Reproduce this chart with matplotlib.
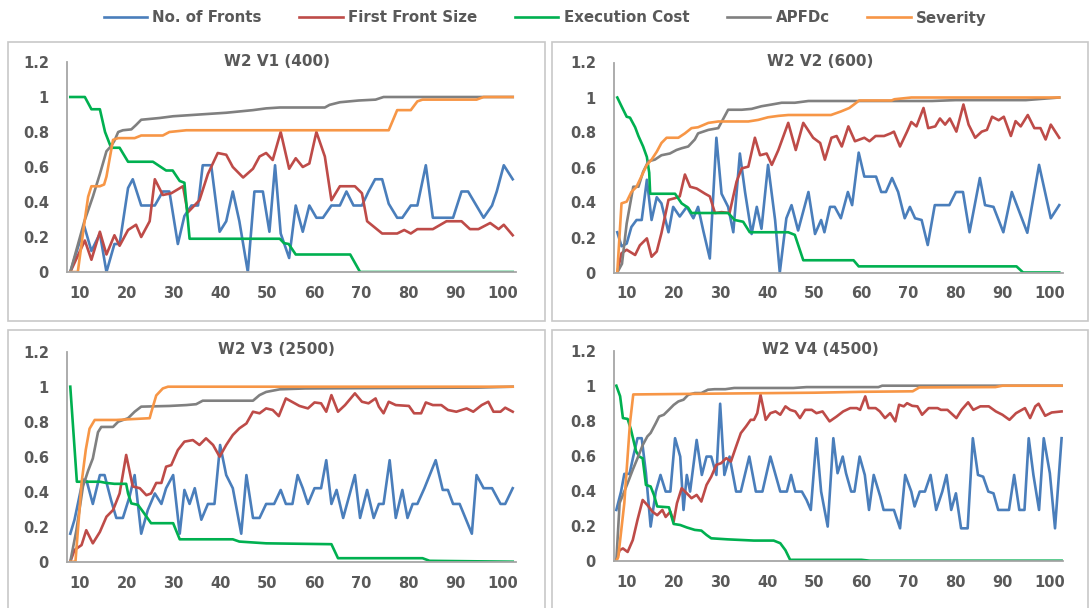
import matplotlib.pyplot as plt
from matplotlib.patches import Rectangle

plt.rcParams['font.family'] = ['DejaVu Sans']

series_names = ['No. of Fronts', 'First Front Size', 'Execution Cost', 'APFDc', 'Severity']
series_colors = ['#4a7ebb', '#be4b48', '#00b050', '#808080', '#f79646']
panel_titles = ['W2 V1 (400)', 'W2 V2 (600)', 'W2 V3 (2500)', 'W2 V4 (4500)']
x_ticks = [10, 20, 30, 40, 50, 60, 70, 80, 90, 100]
y_ticks = [0, 0.2, 0.4, 0.6, 0.8, 1.0, 1.2]
y_tick_labels = ['0', '0.2', '0.4', '0.6', '0.8', '1', '1.2']

# line vertices (x, y)

# ---- W2 V1 (400)
v1_fronts = [(8, 0.0), (11, 0.26), (12.5, 0.12), (14.3, 0.22), (15.7, 0.0), (17.4, 0.16), (18.5, 0.16),
             (20.3, 0.48), (21.3, 0.53), (23.1, 0.38), (26, 0.38), (27.7, 0.46), (29.1, 0.46), (30.9, 0.16),
             (32.3, 0.32), (33.8, 0.38), (35.2, 0.38), (36.2, 0.61), (38, 0.61), (39.8, 0.23), (41.2, 0.29),
             (42.6, 0.46), (44, 0.29), (45.8, 0.0), (47.2, 0.46), (49, 0.46), (50.4, 0.23), (51.6, 0.61),
             (52.8, 0.22), (54.6, 0.08), (56, 0.38), (57.5, 0.23), (58.9, 0.38), (60.4, 0.31), (61.8, 0.31),
             (63.6, 0.38), (65.4, 0.38), (66.8, 0.46), (68.3, 0.38), (70.1, 0.38), (71.5, 0.46), (72.9, 0.53),
             (74.4, 0.53), (75.8, 0.39), (77.6, 0.31), (78.7, 0.31), (80.5, 0.38), (81.9, 0.38), (83.7, 0.61),
             (85.2, 0.31), (89.5, 0.31), (91.3, 0.46), (92.7, 0.46), (96, 0.31), (97.8, 0.38), (98.8, 0.46),
             (100.3, 0.61), (102.2, 0.53)]
v1_front_size = [(8, 0.0), (11.1, 0.18), (12.5, 0.07), (14.3, 0.23), (15.7, 0.1), (17.4, 0.21), (18.5, 0.15),
                 (20.3, 0.24), (22, 0.27), (23.1, 0.2), (24.9, 0.29), (26, 0.53), (27.7, 0.44), (29.5, 0.45),
                 (32, 0.49), (33, 0.34), (35.5, 0.41), (37.3, 0.56), (39.4, 0.68), (41.2, 0.67), (42.6, 0.6),
                 (44.8, 0.54), (46.9, 0.59), (48.3, 0.66), (49.7, 0.68), (51.1, 0.64), (52.8, 0.8), (54.6, 0.59),
                 (56, 0.65), (57.5, 0.6), (58.9, 0.62), (60.4, 0.8), (62.2, 0.66), (63.6, 0.41), (65.4, 0.49),
                 (68.6, 0.49), (70.1, 0.45), (71.2, 0.29), (74.4, 0.22), (77.6, 0.22), (79.1, 0.24), (80.5, 0.22),
                 (81.9, 0.245), (85.2, 0.245), (88.1, 0.29), (91.3, 0.29), (93.1, 0.245), (94.9, 0.245),
                 (97.4, 0.28), (99.2, 0.245), (100.3, 0.27), (102.2, 0.21)]
v1_cost = [(8, 1.0), (11.1, 1.0), (12.5, 0.93), (14.3, 0.93), (15.4, 0.8), (16.7, 0.71), (18.5, 0.71),
           (20.3, 0.63), (25.6, 0.63), (28.4, 0.58), (29.8, 0.58), (31.3, 0.52), (32.3, 0.51), (33.4, 0.19),
           (52.6, 0.19), (53.5, 0.165), (54.5, 0.16), (56, 0.1), (67.6, 0.1), (69.7, 0.0), (102.2, 0.0)]
v1_apfdc = [(8, 0.0), (11, 0.29), (12.8, 0.43), (14.3, 0.56), (15.7, 0.69), (16.7, 0.72), (17.4, 0.75),
            (18.2, 0.8), (19.2, 0.81), (21, 0.815), (22, 0.84), (23.1, 0.87), (27, 0.88), (29.9, 0.89),
            (35.5, 0.9), (41.2, 0.91), (46.9, 0.925), (49.7, 0.935), (52.6, 0.94), (62.2, 0.94),
            (63.2, 0.955), (65.4, 0.97), (69.4, 0.98), (73, 0.985), (74.7, 1.0), (102.2, 1.0)]
v1_severity = [(8, 0.0), (9.6, 0.0), (11.1, 0.3), (11.8, 0.43), (12.5, 0.49), (14.3, 0.49), (15.2, 0.5),
               (15.7, 0.545), (17.1, 0.755), (18.2, 0.765), (21.7, 0.765), (23.1, 0.78), (27.7, 0.78),
               (29.1, 0.8), (32.7, 0.81), (75.8, 0.81), (77.6, 0.925), (80.5, 0.925), (81.9, 0.975),
               (83, 0.985), (94.5, 0.985), (96, 1.0), (102.2, 1.0)]

# ---- W2 V2 (600)
v2_fronts = [(8, 0.23), (8.9, 0.15), (10, 0.165), (11, 0.26), (12.1, 0.3), (13.2, 0.3), (14.3, 0.53),
             (15.3, 0.3), (16.4, 0.43), (17.4, 0.395), (18.9, 0.23), (19.9, 0.375), (21.3, 0.32), (22.8, 0.375),
             (24.2, 0.31), (25.2, 0.375), (26.3, 0.24), (27.7, 0.08), (29.1, 0.77), (30.2, 0.45), (31.6, 0.375),
             (32.7, 0.23), (34.1, 0.68), (35.2, 0.46), (36.6, 0.22), (37.7, 0.375), (38.7, 0.25), (40.1, 0.615),
             (41.6, 0.3), (42.6, 0.0), (44, 0.31), (45.1, 0.385), (46.5, 0.24), (48.7, 0.46), (50.1, 0.22),
             (51.4, 0.3), (52.1, 0.23), (53.3, 0.375), (54.3, 0.375), (55.6, 0.31), (57.1, 0.46), (58, 0.385),
             (59.4, 0.685), (60.6, 0.548), (63.1, 0.548), (64.2, 0.46), (65.2, 0.46), (66.5, 0.54),
             (67.8, 0.46), (69.2, 0.31), (70.3, 0.375), (71.4, 0.31), (72.8, 0.3), (74.1, 0.157),
             (75.6, 0.385), (78.7, 0.385), (80.1, 0.46), (81.6, 0.46), (83, 0.23), (85.2, 0.54),
             (86.3, 0.385), (88.1, 0.375), (90.2, 0.23), (92, 0.46), (95.3, 0.227), (97.8, 0.615),
             (100.3, 0.31), (102.1, 0.385)]
v2_front_size = [(8, 0.0), (8.9, 0.11), (10, 0.13), (11.8, 0.1), (12.8, 0.155), (14.3, 0.195), (15.3, 0.09),
                 (16.4, 0.12), (17.4, 0.225), (18.9, 0.415), (20.3, 0.425), (21.3, 0.435), (22.4, 0.56),
                 (23.5, 0.49), (24.9, 0.48), (26.7, 0.45), (27.7, 0.435), (28.8, 0.34), (30.2, 0.345),
                 (31.9, 0.34), (33.4, 0.52), (34.5, 0.595), (35.9, 0.605), (37.3, 0.77), (38.4, 0.67),
                 (39.8, 0.68), (40.9, 0.615), (42.3, 0.7), (44.4, 0.855), (46, 0.7), (47.6, 0.855),
                 (49.7, 0.77), (51.2, 0.74), (52.2, 0.645), (53.6, 0.77), (54.7, 0.78), (55.8, 0.72),
                 (57.2, 0.835), (58.6, 0.75), (60.6, 0.77), (61.7, 0.75), (63, 0.78), (64.8, 0.78),
                 (66.2, 0.795), (66.9, 0.805), (68.2, 0.72), (69.7, 0.805), (70.6, 0.86), (71.7, 0.835),
                 (73.2, 0.94), (74.2, 0.825), (75.7, 0.835), (76.7, 0.88), (77.8, 0.845), (78.8, 0.88),
                 (80.2, 0.805), (81.7, 0.96), (82.8, 0.845), (84.2, 0.77), (85.6, 0.805), (86.7, 0.815),
                 (87.8, 0.89), (89.2, 0.87), (90.3, 0.89), (91.8, 0.78), (92.8, 0.865), (93.9, 0.835),
                 (95.4, 0.9), (96.8, 0.825), (98.1, 0.825), (99.2, 0.76), (100.3, 0.845), (102.1, 0.77)]
v2_cost = [(8, 1.0), (8.9, 0.95), (10, 0.89), (10.7, 0.885), (11.8, 0.83), (12.5, 0.78), (13.5, 0.72),
           (14.3, 0.66), (14.8, 0.57), (15, 0.45), (20.3, 0.45), (21.7, 0.395), (23.1, 0.37), (23.8, 0.34),
           (31.6, 0.34), (33, 0.3), (34.8, 0.29), (36.2, 0.23), (44.4, 0.23), (45.8, 0.215), (47.6, 0.07),
           (58.3, 0.07), (59.4, 0.035), (93, 0.035), (94.4, 0.0), (102.1, 0.0)]
v2_apfdc = [(8, 0.0), (9, 0.05), (10, 0.28), (11.4, 0.49), (12.5, 0.49), (13.5, 0.575), (14.6, 0.635),
            (16, 0.645), (17.4, 0.67), (19.2, 0.68), (20.6, 0.7), (21.7, 0.71), (23.1, 0.72), (24.5, 0.76),
            (25.2, 0.795), (27.4, 0.815), (29.5, 0.825), (31.6, 0.93), (34.5, 0.93), (36.6, 0.935),
            (38.7, 0.95), (40.9, 0.96), (43, 0.97), (45.8, 0.97), (48.7, 0.98), (75, 0.98), (80, 0.985),
            (95, 0.985), (102.1, 1.0)]
v2_severity = [(8, 0.0), (8.9, 0.395), (10, 0.405), (11, 0.46), (12.1, 0.49), (14.3, 0.615), (15.3, 0.645),
               (16.4, 0.69), (17.4, 0.74), (18.5, 0.77), (21, 0.77), (22.4, 0.795), (23.8, 0.825),
               (25.2, 0.83), (27.4, 0.855), (29.5, 0.863), (35.9, 0.863), (38, 0.872), (40.1, 0.887),
               (42.3, 0.895), (44.4, 0.9), (53.5, 0.9), (55.6, 0.92), (57.4, 0.94), (58.4, 0.96),
               (59.5, 0.983), (66.4, 0.983), (67, 0.99), (70.6, 1.0), (102.1, 1.0)]

# ---- W2 V3 (2500)
v3_fronts = [(8, 0.16), (8.9, 0.24), (10.7, 0.47), (11.5, 0.46), (12.8, 0.33), (14.3, 0.495), (15.3, 0.495),
             (16.7, 0.35), (17.8, 0.25), (19.2, 0.25), (20.6, 0.37), (21.7, 0.495), (23.1, 0.16), (24.5, 0.295),
             (26, 0.39), (27.4, 0.33), (28.4, 0.42), (29.9, 0.495), (31.3, 0.16), (32.3, 0.41), (33.4, 0.33),
             (34.5, 0.42), (35.9, 0.24), (37.3, 0.33), (38.7, 0.33), (39.9, 0.667), (41.2, 0.495),
             (42.6, 0.42), (44.4, 0.16), (45.5, 0.495), (46.9, 0.25), (48.3, 0.25), (49.7, 0.33), (51.4, 0.33),
             (52.8, 0.41), (53.9, 0.33), (55.3, 0.33), (56.4, 0.495), (57.5, 0.42), (58.6, 0.33), (60, 0.42),
             (61.4, 0.42), (62.5, 0.58), (63.6, 0.33), (64.7, 0.41), (66.1, 0.25), (68.6, 0.495), (69.7, 0.25),
             (71.2, 0.41), (72.6, 0.25), (73.7, 0.33), (74.7, 0.33), (76, 0.58), (77.3, 0.25), (78.7, 0.41),
             (79.8, 0.25), (80.9, 0.33), (81.9, 0.33), (83.4, 0.42), (85.8, 0.58), (87.3, 0.41), (88.4, 0.41),
             (89.5, 0.33), (90.9, 0.33), (93.5, 0.16), (94.5, 0.495), (96, 0.42), (97.8, 0.42), (99.6, 0.33),
             (100.6, 0.33), (102.2, 0.42)]
v3_front_size = [(8, 0.0), (8.9, 0.067), (10.4, 0.095), (11.4, 0.18), (12.8, 0.105), (14.3, 0.17),
                 (15.7, 0.257), (17.1, 0.295), (18.5, 0.39), (19.9, 0.61), (21.3, 0.43), (22.8, 0.42),
                 (24.2, 0.38), (25.2, 0.39), (26.3, 0.45), (27.4, 0.45), (28.4, 0.543), (29.5, 0.552),
                 (30.9, 0.638), (32.3, 0.686), (34.1, 0.695), (35.5, 0.667), (36.9, 0.705), (38.4, 0.667),
                 (39.8, 0.6), (41.2, 0.667), (42.6, 0.724), (44, 0.762), (45.5, 0.79), (46.9, 0.857),
                 (48.3, 0.848), (49.7, 0.876), (51.1, 0.867), (52.4, 0.832), (53.9, 0.933), (56.8, 0.89),
                 (58.6, 0.876), (60, 0.91), (61.4, 0.905), (62.5, 0.857), (63.6, 0.952), (65, 0.857),
                 (66.5, 0.895), (68.6, 0.962), (70.1, 0.914), (71.5, 0.905), (73, 0.933), (73.7, 0.886),
                 (74.7, 0.848), (75.8, 0.914), (77.3, 0.895), (80.1, 0.89), (81.2, 0.848), (82.7, 0.848),
                 (83.7, 0.91), (85.2, 0.895), (87, 0.895), (88.4, 0.867), (90.2, 0.857), (92.4, 0.876),
                 (93.8, 0.857), (95.6, 0.895), (97, 0.914), (98.1, 0.857), (99.6, 0.857), (100.6, 0.88),
                 (102.2, 0.857)]
v3_cost = [(8, 1.0), (9.4, 0.457), (14.3, 0.457), (15.7, 0.45), (17.4, 0.445), (19.9, 0.445), (20.3, 0.39),
           (21, 0.333), (22.4, 0.325), (23.5, 0.285), (25.2, 0.22), (29.9, 0.22), (31.3, 0.128),
           (42.6, 0.128), (44, 0.115), (49.7, 0.105), (63.6, 0.1), (65, 0.02), (83, 0.02), (84.5, 0.005),
           (102.2, 0.0)]
v3_apfdc = [(8, 0.0), (9.3, 0.18), (10.7, 0.43), (11.8, 0.52), (12.8, 0.59), (13.9, 0.74), (14.6, 0.77),
            (17.1, 0.77), (18.2, 0.8), (20.3, 0.82), (21.7, 0.857), (23.1, 0.886), (29.1, 0.89),
            (32.7, 0.895), (34.8, 0.9), (36.2, 0.92), (46.9, 0.92), (48.3, 0.952), (49.7, 0.97),
            (52.6, 0.985), (58, 0.99), (95, 0.995), (102.2, 1.0)]
v3_severity = [(8, 0.0), (9.1, 0.0), (10.4, 0.45), (11.3, 0.64), (12.1, 0.76), (13.2, 0.81), (17.8, 0.81),
               (19.9, 0.813), (24.9, 0.82), (25.2, 0.85), (26.3, 0.95), (27.7, 0.99), (28.8, 1.0),
               (102.2, 1.0)]

# ---- W2 V4 (4500)
v4_fronts = [(7.8, 0.29), (8.8, 0.395), (9.5, 0.496), (10.6, 0.496), (11.4, 0.595), (12.3, 0.7), (13.2, 0.7),
             (14.1, 0.5), (15.1, 0.195), (16.2, 0.395), (17.2, 0.49), (18.3, 0.395), (19.3, 0.395), (20.3, 0.7),
             (21.4, 0.595), (22.1, 0.29), (22.8, 0.49), (23.5, 0.395), (24.9, 0.69), (26, 0.49), (27, 0.595),
             (28, 0.595), (29.1, 0.49), (29.9, 0.897), (30.8, 0.49), (31.9, 0.595), (33.3, 0.395),
             (34.3, 0.395), (36.1, 0.595), (37.5, 0.395), (38.9, 0.395), (40.6, 0.595), (42.7, 0.395),
             (44.1, 0.395), (45, 0.49), (45.9, 0.395), (47.3, 0.395), (48.3, 0.347), (49.2, 0.29),
             (50.4, 0.7), (51.4, 0.395), (52.8, 0.195), (54, 0.7), (54.9, 0.5), (56, 0.595), (56.7, 0.5),
             (57.8, 0.395), (58.5, 0.395), (59.6, 0.595), (60.7, 0.49), (61.6, 0.29), (62.6, 0.49),
             (64, 0.366), (64.7, 0.29), (66.9, 0.29), (68.2, 0.185), (69.3, 0.49), (70.6, 0.395),
             (71.3, 0.31), (72.4, 0.395), (73.5, 0.395), (74.7, 0.49), (75.9, 0.29), (77.2, 0.395),
             (78.1, 0.49), (79.1, 0.29), (80.1, 0.385), (81.2, 0.185), (82.6, 0.185), (83.7, 0.7),
             (84.8, 0.49), (85.9, 0.48), (87, 0.395), (88.1, 0.385), (89.1, 0.29), (91.4, 0.29),
             (92.5, 0.49), (93.6, 0.29), (94.7, 0.29), (95.6, 0.7), (96.6, 0.49), (97.8, 0.29), (98.8, 0.7),
             (100.1, 0.5), (101.2, 0.185), (102.6, 0.7)]
v4_front_size = [(7.8, 0.0), (8.5, 0.06), (9.2, 0.07), (10.2, 0.05), (11.3, 0.118), (12.3, 0.233),
                 (13.4, 0.347), (14.4, 0.318), (15.5, 0.28), (16.5, 0.26), (17.6, 0.29), (18.3, 0.25),
                 (19.3, 0.28), (20, 0.223), (20.7, 0.328), (21.7, 0.414), (22.8, 0.385), (23.8, 0.357),
                 (24.9, 0.376), (25.9, 0.338), (27, 0.433), (28, 0.48), (29.1, 0.548), (30.1, 0.557),
                 (31.2, 0.586), (32.2, 0.567), (33.3, 0.653), (34.3, 0.729), (35.4, 0.767), (36.4, 0.805),
                 (37.1, 0.805), (37.8, 0.843), (38.5, 0.948), (39.6, 0.805), (40.6, 0.843), (41.7, 0.853),
                 (42.7, 0.834), (43.8, 0.882), (44.8, 0.862), (45.9, 0.853), (46.9, 0.815), (48, 0.862),
                 (49.4, 0.862), (50.4, 0.843), (51.7, 0.853), (53.2, 0.796), (54.7, 0.824), (56.1, 0.853),
                 (57.6, 0.872), (59, 0.872), (59.7, 0.862), (60.8, 0.939), (61.5, 0.872), (63, 0.872),
                 (63.9, 0.853), (65, 0.815), (66.1, 0.843), (67.2, 0.796), (68, 0.891), (69, 0.882),
                 (69.7, 0.9), (70.8, 0.885), (71.9, 0.882), (72.9, 0.834), (74.3, 0.872), (76.2, 0.872),
                 (76.9, 0.862), (78.3, 0.862), (80.2, 0.815), (81.3, 0.862), (82.7, 0.905), (83.8, 0.862),
                 (85.3, 0.882), (87.1, 0.882), (88.6, 0.853), (90, 0.834), (91.5, 0.805), (92.9, 0.843),
                 (94.8, 0.872), (95.9, 0.815), (97, 0.882), (97.7, 0.897), (99.1, 0.828), (100.5, 0.847),
                 (102.6, 0.853)]
v4_cost = [(7.8, 1.0), (8.6, 0.94), (9.2, 0.815), (10.2, 0.81), (10.9, 0.75), (12, 0.625), (12.7, 0.595),
           (13.4, 0.585), (14.1, 0.433), (15.1, 0.424), (15.8, 0.376), (16.5, 0.31), (19, 0.305), (20, 0.21),
           (21.4, 0.204), (22.8, 0.19), (24.5, 0.176), (25.9, 0.172), (27, 0.147), (28, 0.128), (31.5, 0.122),
           (37.1, 0.115), (41.3, 0.115), (42.7, 0.1), (43.8, 0.06), (44.8, 0.005), (60, 0.005), (61.8, 0.0),
           (102.6, 0.0)]
v4_apfdc = [(7.8, 0.0), (8.5, 0.33), (9.2, 0.376), (10.2, 0.443), (11.3, 0.52), (12.3, 0.585), (13.4, 0.66),
            (14.4, 0.71), (15.1, 0.73), (16.2, 0.786), (16.9, 0.824), (17.9, 0.834), (19, 0.863), (20, 0.89),
            (21, 0.91), (22.1, 0.92), (23.1, 0.948), (24.5, 0.958), (25.9, 0.958), (27.3, 0.977),
            (28.7, 0.98), (31, 0.98), (32.9, 0.987), (45.5, 0.987), (48.3, 0.992), (63.6, 0.992),
            (64.4, 1.0), (102.6, 1.0)]
v4_severity = [(7.8, 0.0), (8.2, 0.02), (9.5, 0.33), (10.7, 0.786), (11.4, 0.95), (30, 0.955), (50, 0.96),
               (60, 0.965), (70.9, 0.968), (72.3, 0.99), (88.5, 0.992), (90, 1.0), (102.6, 1.0)]

panel_series = [
    [v1_fronts, v1_front_size, v1_cost, v1_apfdc, v1_severity],
    [v2_fronts, v2_front_size, v2_cost, v2_apfdc, v2_severity],
    [v3_fronts, v3_front_size, v3_cost, v3_apfdc, v3_severity],
    [v4_fronts, v4_front_size, v4_cost, v4_apfdc, v4_severity],
]

W, H = 1090, 608
fig = plt.figure(figsize=(W / 100, H / 100), dpi=100)

# layout in pixels: axes left, axes zero line, panel frame (x0, y0, x1, y1)
ax_left = [67, 614, 67, 614]
ax_zero = [272, 272.5, 561.7, 560.7]
ax_w, ax_h = 449, 210
frames = [(8, 42, 545, 321), (552, 42, 1088, 321), (8, 330, 545, 612), (552, 330, 1088, 612)]
text_col = '#595959'
axis_col = '#a6a6a6'

for i in range(4):
    ax = fig.add_axes([ax_left[i] / W, 1 - ax_zero[i] / H, ax_w / W, ax_h / H])
    for pts, name, col in zip(panel_series[i], series_names, series_colors):
        xs, ys = zip(*pts)
        ax.plot(xs, ys, color=col, lw=1.9, label=name, solid_joinstyle='round')
    ax.set_xlim(7.3, 102.9)
    ax.set_ylim(0, 1.2)
    ax.set_xticks(x_ticks)
    ax.set_yticks(y_ticks)
    ax.set_yticklabels(y_tick_labels)
    ax.patch.set_visible(False)
    for s in ['top', 'right']:
        ax.spines[s].set_visible(False)
    for s in ['left', 'bottom']:
        ax.spines[s].set_color(axis_col)
        ax.spines[s].set_linewidth(1.3)
    ax.tick_params(axis='y', length=0, pad=13, labelsize=10.5, labelcolor=text_col)
    ax.tick_params(axis='x', length=0, pad=10, labelsize=10.5, labelcolor=text_col)
    for lab in ax.get_xticklabels() + ax.get_yticklabels():
        lab.set_fontweight('bold')

    x0, y0, x1, y1 = frames[i]
    fig.add_artist(Rectangle((x0 / W, 1 - y1 / H), (x1 - x0) / W, (y1 - y0) / H,
                             transform=fig.transFigure, fill=False, edgecolor='#c8c8c8', lw=1.2))
    fig.text((x0 + x1) / 2 / W, 1 - (y0 + 19.5) / H, panel_titles[i], ha='center', va='center',
             fontsize=11, fontweight='bold', color=text_col)

handles, labels = fig.axes[0].get_legend_handles_labels()
fig.legend(handles, labels, loc='center', bbox_to_anchor=(0.5, 1 - 18 / H), ncol=5, frameon=False,
           handlelength=2.9, handletextpad=0.35, columnspacing=2.5,
           prop={'size': 10.8, 'weight': 'bold'}, labelcolor=text_col)

fig.savefig('out.png', dpi=100)
